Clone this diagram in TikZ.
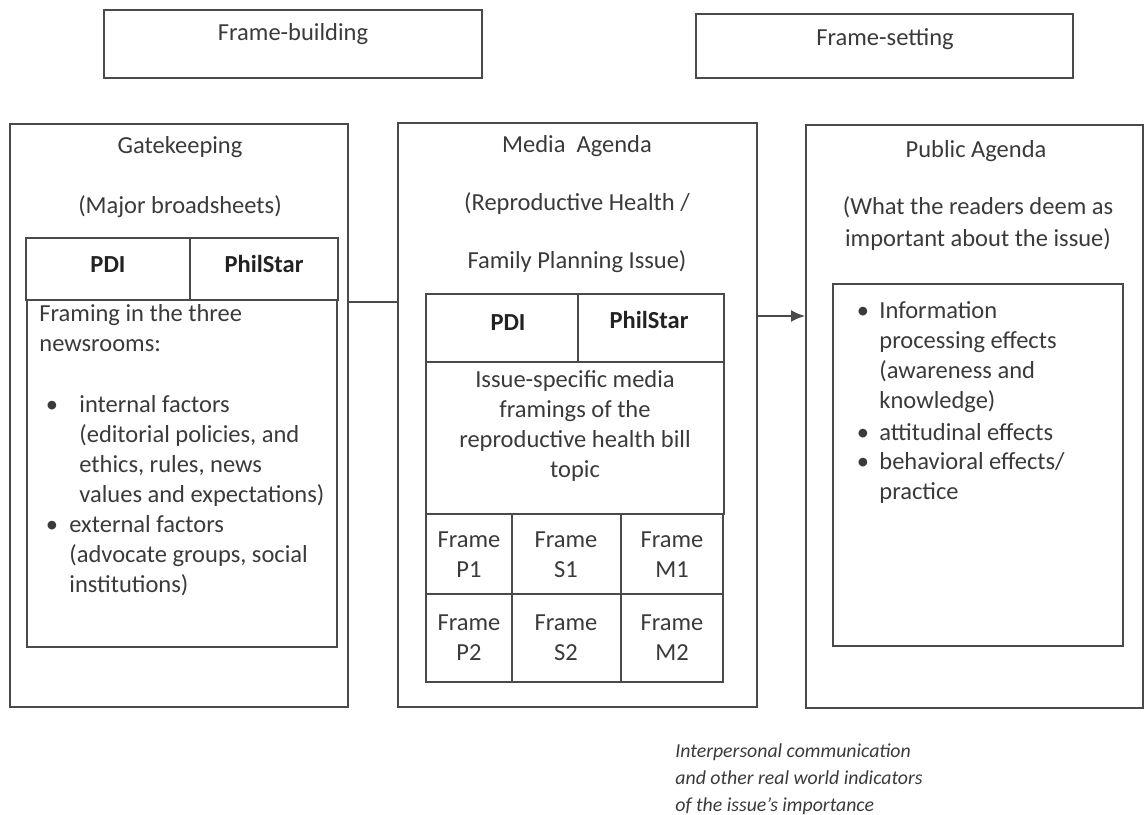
\documentclass[tikz,border=0pt]{standalone}
\usepackage{fontspec}
\setmainfont{Carlito}
\usetikzlibrary{fit,arrows.meta}
\definecolor{linec}{HTML}{4A4A4A}
\definecolor{txtc}{HTML}{3A3A3A}
\definecolor{boldc}{HTML}{222222}
\begin{document}
\begin{tikzpicture}[x=0.5pt,y=-0.5pt,
  box/.style={draw=linec,line width=1pt,inner sep=0pt,fit={#1}},
  lbl/.style={text=txtc,inner sep=0pt,font=\fontsize{12.25}{15}\selectfont},
  bold/.style={text=boldc,inner sep=0pt,font=\fontsize{12.25}{15}\selectfont\bfseries},
  para/.style={lbl,anchor=base west,text width=#1,align=flush left},
  cpara/.style={lbl,anchor=base,text width=#1,align=flush center},
  note/.style={text=txtc,inner sep=0pt,anchor=base west,text width=170pt,align=flush left,font=\fontsize{9.9}{13.5}\selectfont\itshape},
  conn/.style={draw=linec,line width=1pt}]
\useasboundingbox (0,0) rectangle (1144,814);

% top boxes
\node[box={(104,10) (482,78)}] (fb) {};
\node[lbl,anchor=base] (fbt) at (293,40) {Frame-building};
\node[box={(696,14) (1073,78)}] (fs) {};
\node[lbl,anchor=base] (fst) at (885,45) {Frame-setting};

% Gatekeeping
\node[box={(10,124) (348,707)}] (gk) {};
\node[lbl,anchor=base] (gkt) at (180,153) {Gatekeeping};
\node[lbl,anchor=base] (gks) at (180,213) {(Major broadsheets)};
\node[box={(26,238) (190,300)}] (gkpdi) {};
\node[box={(190,238) (338,300)}] (gkps) {};
\node[bold,anchor=base] (gkpdit) at (108,272) {PDI};
\node[bold,anchor=base] (gkpst) at (264,272) {PhilStar};
\node[box={(27,300) (337,647)}] (gkin) {};
\node[para=150pt] (gkf) at (39,321) {Framing in the three\\newsrooms:};
\node[lbl,anchor=base] (gkb1) at (52,412) {\textbullet};
\node[para=140pt] (gkl1) at (79,412) {internal factors\\(editorial policies, and\\ethics, rules, news\\values and expectations)};
\node[lbl,anchor=base] (gkb2) at (52,532) {\textbullet};
\node[para=140pt] (gkl2) at (69,532) {external factors\\(advocate groups, social\\institutions)};

% Media Agenda
\node[box={(398,123) (757,707)}] (ma) {};
\node[lbl,anchor=base] (mat) at (577,152) {Media\ \ Agenda};
\node[lbl,anchor=base] (mas1) at (577,210) {(Reproductive Health /};
\node[lbl,anchor=base] (mas2) at (577,268) {Family Planning Issue)};
\node[box={(426,294) (578,362)}] (mapdi) {};
\node[box={(578,294) (724,362)}] (maps) {};
\node[bold,anchor=base] (mapdit) at (508,330) {PDI};
\node[bold,anchor=base] (mapst) at (649,328) {PhilStar};
\node[box={(426,362) (724,514)}] (issue) {};
\node[cpara=140pt] (issuet) at (575,387) {Issue-specific media\\framings of the\\reproductive health bill\\topic};
\node[box={(426,514) (512,594)}] (f11) {};
\node[box={(512,514) (621,594)}] (f12) {};
\node[box={(621,514) (723,594)}] (f13) {};
\node[box={(426,594) (512,682)}] (f21) {};
\node[box={(512,594) (621,682)}] (f22) {};
\node[box={(621,594) (723,682)}] (f23) {};
\node[cpara=40pt] (f11t) at (469,547) {Frame\\P1};
\node[cpara=40pt] (f12t) at (566,547) {Frame\\S1};
\node[cpara=40pt] (f13t) at (672,547) {Frame\\M1};
\node[cpara=40pt] (f21t) at (469,630) {Frame\\P2};
\node[cpara=40pt] (f22t) at (566,630) {Frame\\S2};
\node[cpara=40pt] (f23t) at (672,630) {Frame\\M2};

% Public Agenda
\node[box={(806,125) (1143,708)}] (pa) {};
\node[lbl,anchor=base] (pat) at (976,157) {Public Agenda};
\node[lbl,anchor=base] (pas1) at (978,214) {(What the readers deem as};
\node[lbl,anchor=base] (pas2) at (978,246) {important about the issue)};
\node[box={(833,284) (1123,646)}] (pain) {};
\node[lbl,anchor=base] (pab1) at (863,318) {\textbullet};
\node[para=120pt] (pal1) at (879,318) {Information\\processing effects\\(awareness and\\knowledge)};
\node[lbl,anchor=base] (pab2) at (863,440) {\textbullet};
\node[para=120pt] (pal2) at (879,440) {attitudinal effects};
\node[lbl,anchor=base] (pab3) at (863,469) {\textbullet};
\node[para=120pt] (pal3) at (879,469) {behavioral effects/\\practice};

% connectors
\coordinate (c1) at (0,302);
\coordinate (c2) at (0,316);
\draw[conn] (gk.east |- c1) -- (ma.west |- c1);
\draw[conn,-{Latex[length=7pt,width=6pt]}] (ma.east |- c2) -- (pa.west |- c2);

% note
\node[note] (nt) at (675,757) {Interpersonal communication\\and other real world indicators\\of the issue’s importance};
\end{tikzpicture}
\end{document}
